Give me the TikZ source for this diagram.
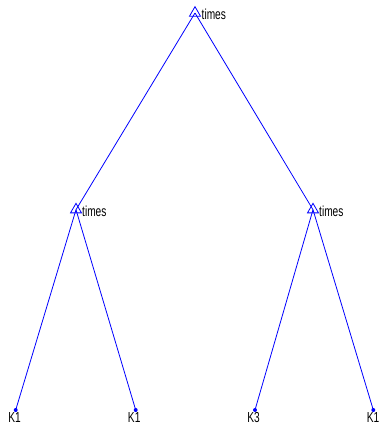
\documentclass[tikz,border=0pt]{standalone}
\usepackage{fontspec}
\setmainfont{Liberation Sans}
\usetikzlibrary{shapes.geometric}
\newcommand{\narrowtxt}[1]{\scalebox{0.7}[1]{#1}}
\begin{document}
\begin{tikzpicture}[x=1pt,y=-1pt,
  tri/.style={regular polygon, regular polygon sides=3, draw=blue, line width=0.8pt, inner sep=0pt, minimum size=12.7pt},
  leaf/.style={circle, fill=blue, inner sep=0pt, minimum size=4pt},
  edge/.style={draw=blue, line width=0.8pt},
  lbl/.style={inner sep=0pt, font=\fontsize{14.5}{14.5}\selectfont, text=black}]
\useasboundingbox (0,0) rectangle (380,432);
\node[tri] (t) at (195,13) {};
\node[tri] (l) at (76,209.7) {};
\node[tri] (r) at (313,209.7) {};
\node[leaf] (a) at (15.7,410) {};
\node[leaf] (b) at (135.7,410) {};
\node[leaf] (c) at (255,410) {};
\node[leaf] (d) at (373.3,410) {};
\draw[edge] (t.center) -- (l.center);
\draw[edge] (t.center) -- (r.center);
\draw[edge] (l.center) -- (a.center);
\draw[edge] (l.center) -- (b.center);
\draw[edge] (r.center) -- (c.center);
\draw[edge] (r.center) -- (d.center);
\node[lbl, anchor=west] (tl) at (201.5,14) {\narrowtxt{times}};
\node[lbl, anchor=west] (ll) at (82,211) {\narrowtxt{times}};
\node[lbl, anchor=west] (rl) at (319,211) {\narrowtxt{times}};
\node[lbl, anchor=north] (al) at (14.5,412.5) {\narrowtxt{K1}};
\node[lbl, anchor=north] (bl) at (134.2,412.5) {\narrowtxt{K1}};
\node[lbl, anchor=north] (cl) at (253.5,412.5) {\narrowtxt{K3}};
\node[lbl, anchor=north east] (dl) at (379.5,412.5) {\narrowtxt{K1}};
\end{tikzpicture}
\end{document}
